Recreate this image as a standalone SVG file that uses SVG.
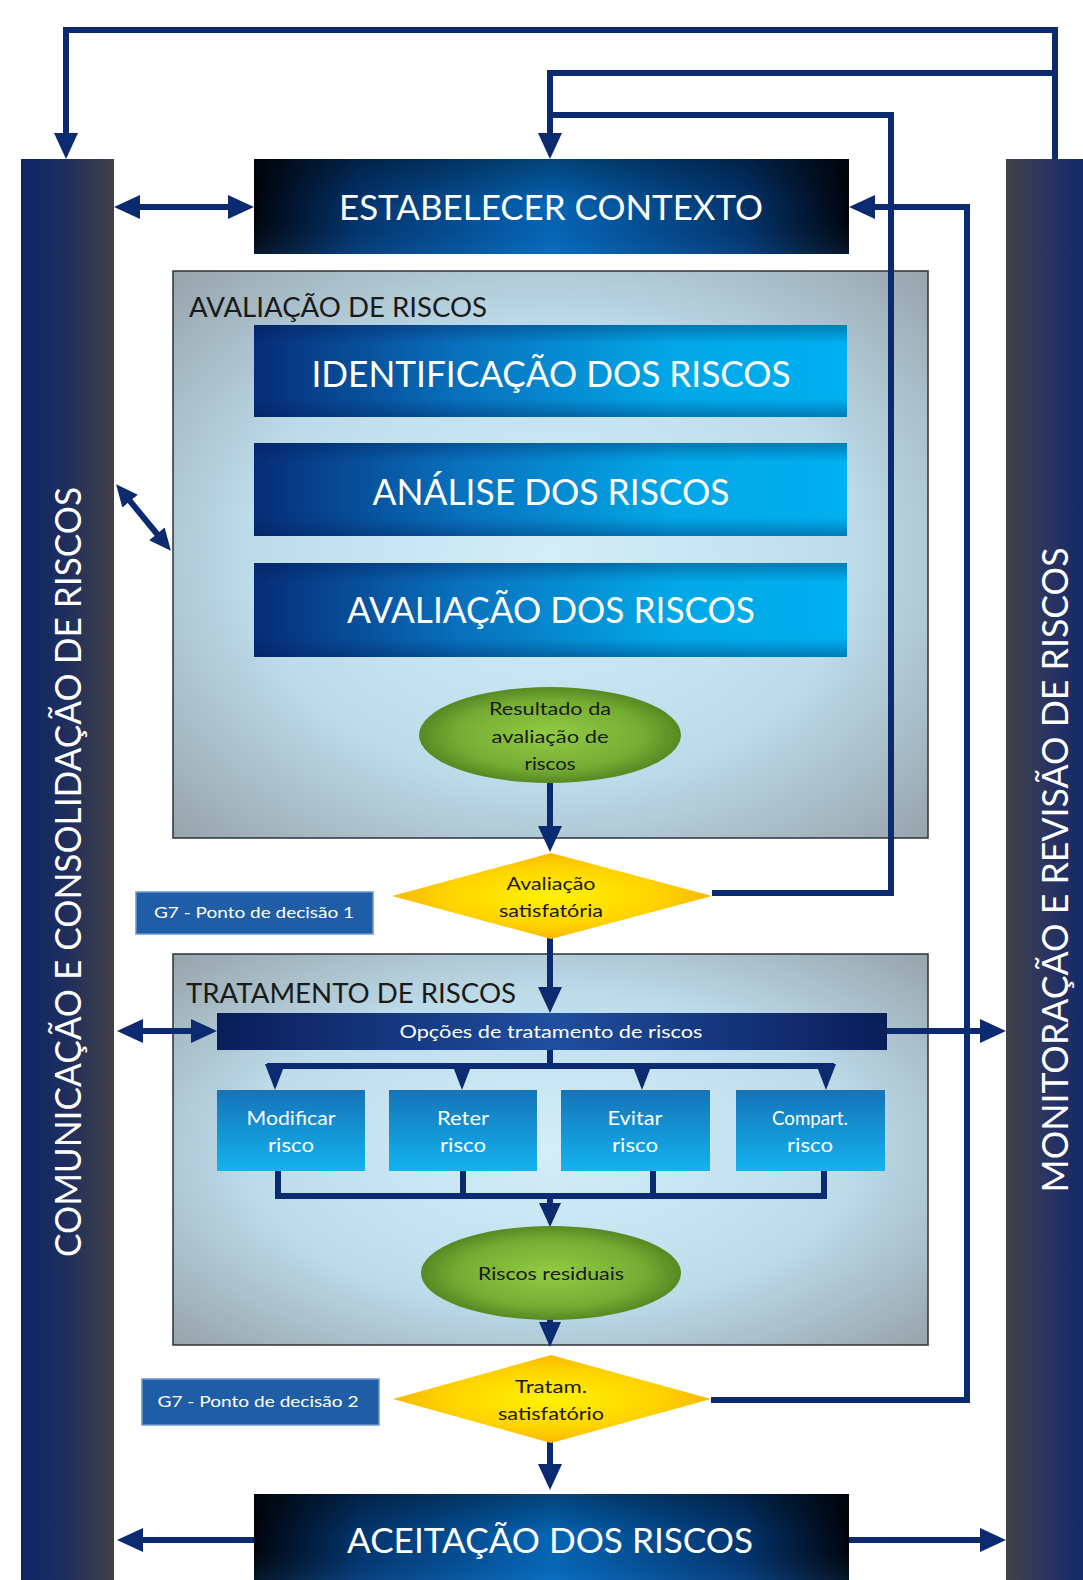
<svg xmlns="http://www.w3.org/2000/svg" width="1083" height="1580" viewBox="0 0 1083 1580">
<style>
.t{font-family:Lato,"Open Sans","Liberation Sans",sans-serif;}
.w{fill:#ffffff;}
.d{fill:#1a1a1a;}
.c{stroke:#0b2a6f;stroke-width:6;fill:none;}
.ah{fill:#0b2a6f;}
</style>
<defs>
<linearGradient id="gLeftBar" x1="0" y1="0" x2="1" y2="0">
<stop offset="0" stop-color="#0d2668"/><stop offset="0.45" stop-color="#1d2d5e"/><stop offset="1" stop-color="#404046"/>
</linearGradient>
<linearGradient id="gRightBar" x1="0" y1="0" x2="1" y2="0">
<stop offset="0" stop-color="#414148"/><stop offset="0.55" stop-color="#2a3460"/><stop offset="1" stop-color="#13296a"/>
</linearGradient>
<linearGradient id="gDark" x1="0" y1="0" x2="1" y2="0">
<stop offset="0" stop-color="#00040c"/><stop offset="0.18" stop-color="#03356f"/><stop offset="0.5" stop-color="#0467b8"/><stop offset="0.82" stop-color="#03356f"/><stop offset="1" stop-color="#00040c"/>
</linearGradient>
<linearGradient id="gDarkV" x1="0" y1="0" x2="0" y2="1">
<stop offset="0" stop-color="#000000" stop-opacity="0.35"/><stop offset="0.5" stop-color="#000000" stop-opacity="0"/><stop offset="1" stop-color="#3aa0ff" stop-opacity="0.12"/>
</linearGradient>
<radialGradient id="gPanel" cx="0.5" cy="0.5" r="0.72">
<stop offset="0" stop-color="#d3eef9"/><stop offset="0.55" stop-color="#bddcea"/><stop offset="1" stop-color="#95a1a9"/>
</radialGradient>
<linearGradient id="gBlue" x1="0" y1="0" x2="1" y2="0">
<stop offset="0" stop-color="#062c77"/><stop offset="0.35" stop-color="#0871bd"/><stop offset="0.7" stop-color="#02a7e6"/><stop offset="1" stop-color="#00b0ef"/>
</linearGradient>
<linearGradient id="gEdgeV" x1="0" y1="0" x2="0" y2="1">
<stop offset="0" stop-color="#001a50" stop-opacity="0.35"/><stop offset="0.2" stop-color="#001a50" stop-opacity="0"/><stop offset="0.8" stop-color="#001a50" stop-opacity="0"/><stop offset="1" stop-color="#001a50" stop-opacity="0.35"/>
</linearGradient>
<linearGradient id="gOpc" x1="0" y1="0" x2="1" y2="0">
<stop offset="0" stop-color="#0a1d5a"/><stop offset="0.5" stop-color="#1f4f9f"/><stop offset="1" stop-color="#0a1d5a"/>
</linearGradient>
<linearGradient id="gOpt" x1="0" y1="0" x2="0" y2="1">
<stop offset="0" stop-color="#1673b8"/><stop offset="1" stop-color="#13b3ee"/>
</linearGradient>
<radialGradient id="gGreen" cx="0.5" cy="0.5" r="0.55">
<stop offset="0" stop-color="#93cc44"/><stop offset="0.65" stop-color="#74ad33"/><stop offset="1" stop-color="#4b7d1d"/>
</radialGradient>
<radialGradient id="gYellow" cx="0.5" cy="0.5" r="0.55">
<stop offset="0" stop-color="#fff200"/><stop offset="0.6" stop-color="#ffd400"/><stop offset="1" stop-color="#f6b100"/>
</radialGradient>
<marker id="arr" viewBox="-10 -12 26 24" refX="0" refY="0" markerWidth="26" markerHeight="24" markerUnits="userSpaceOnUse" orient="auto-start-reverse">
<path d="M-10,-12 L16,0 L-10,12 z" fill="#0b2a6f"/>
</marker>
<marker id="arrS" viewBox="-8 -10 22 20" refX="0" refY="0" markerWidth="22" markerHeight="20" markerUnits="userSpaceOnUse" orient="auto-start-reverse">
<path d="M-8,-10 L14,0 L-8,10 z" fill="#0b2a6f"/>
</marker>
</defs>

<rect x="0" y="0" width="1083" height="1580" fill="#ffffff"/>

<g id="bar-comunicacao">
<rect x="21" y="159" width="93" height="1421" fill="url(#gLeftBar)"/>
<text class="t w" transform="translate(81,872) rotate(-90)" text-anchor="middle" font-size="37" textLength="770" lengthAdjust="spacingAndGlyphs">COMUNICAÇÃO E CONSOLIDAÇÃO DE RISCOS</text>
</g>
<g id="bar-monitoracao">
<rect x="1006" y="159" width="77" height="1421" fill="url(#gRightBar)"/>
<text class="t w" transform="translate(1068,870) rotate(-90)" text-anchor="middle" font-size="37" textLength="645" lengthAdjust="spacingAndGlyphs">MONITORAÇÃO E REVISÃO DE RISCOS</text>
</g>

<g id="panel-avaliacao">
<rect x="173" y="271" width="755" height="567" fill="url(#gPanel)" stroke="#2e3236" stroke-width="1.5"/>
<text class="t d" x="189" y="317" font-size="26" textLength="298" lengthAdjust="spacingAndGlyphs">AVALIAÇÃO DE RISCOS</text>
</g>
<g id="panel-tratamento">
<rect x="173" y="954" width="755" height="391" fill="url(#gPanel)" stroke="#2e3236" stroke-width="1.5"/>
<text class="t d" x="186" y="1003" font-size="26" textLength="330" lengthAdjust="spacingAndGlyphs">TRATAMENTO DE RISCOS</text>
</g>

<g id="connectors">
<path class="c" d="M1055,159 V30 H66 V143" marker-end="url(#arr)"/>
<path class="c" d="M1055,73 H550 V143" marker-end="url(#arr)"/>
<path class="c" d="M712,893 H891 V115 H550"/>
<path class="c" d="M711,1400 H967 V207 H865" marker-end="url(#arr)"/>
<path class="c" d="M130,207 H238" marker-start="url(#arr)" marker-end="url(#arr)"/>
<path class="c" d="M125,495 L162,540" marker-start="url(#arrS)" marker-end="url(#arrS)"/>
<path class="c" d="M550,783 V836" marker-end="url(#arr)"/>
<path class="c" d="M550,938 V997" marker-end="url(#arr)"/>
<path class="c" d="M133,1031 H201" marker-start="url(#arr)" marker-end="url(#arr)"/>
<path class="c" d="M887,1031 H990" marker-end="url(#arr)"/>
<path class="c" d="M550,1050 V1066 M267,1066 H834"/>
<polygon class="ah" points="265,1064 285,1064 275,1090"/>
<polygon class="ah" points="452,1064 472,1064 462,1090"/>
<polygon class="ah" points="632,1064 652,1064 642,1090"/>
<polygon class="ah" points="816,1064 836,1064 826,1090"/>
<path class="c" d="M278,1171 V1196 M463,1171 V1196 M653,1171 V1196 M824,1171 V1196 M275,1196 H827 M550,1196 V1208"/>
<polygon class="ah" points="539,1203 561,1203 550,1227"/>
<path class="c" d="M550,1318 V1328"/>
<polygon class="ah" points="539,1322 561,1322 550,1347"/>
<path class="c" d="M550,1442 V1474" marker-end="url(#arr)"/>
<path class="c" d="M254,1540 H133" marker-end="url(#arr)"/>
<path class="c" d="M849,1540 H990" marker-end="url(#arr)"/>
</g>

<g id="estabelecer-contexto">
<rect x="254" y="159" width="595" height="95" fill="url(#gDark)"/>
<rect x="254" y="159" width="595" height="95" fill="url(#gDarkV)"/>
<text class="t w" x="551" y="220" text-anchor="middle" font-size="35" textLength="424" lengthAdjust="spacingAndGlyphs">ESTABELECER CONTEXTO</text>
</g>

<g id="identificacao">
<rect x="254" y="325" width="593" height="92" fill="url(#gBlue)"/>
<rect x="254" y="325" width="593" height="92" fill="url(#gEdgeV)"/>
<text class="t w" x="551" y="387" text-anchor="middle" font-size="36" textLength="479" lengthAdjust="spacingAndGlyphs">IDENTIFICAÇÃO DOS RISCOS</text>
</g>
<g id="analise">
<rect x="254" y="443" width="593" height="93" fill="url(#gBlue)"/>
<rect x="254" y="443" width="593" height="93" fill="url(#gEdgeV)"/>
<text class="t w" x="551" y="505" text-anchor="middle" font-size="36" textLength="357" lengthAdjust="spacingAndGlyphs">ANÁLISE DOS RISCOS</text>
</g>
<g id="avaliacao-riscos">
<rect x="254" y="563" width="593" height="94" fill="url(#gBlue)"/>
<rect x="254" y="563" width="593" height="94" fill="url(#gEdgeV)"/>
<text class="t w" x="551" y="623" text-anchor="middle" font-size="36" textLength="408" lengthAdjust="spacingAndGlyphs">AVALIAÇÃO DOS RISCOS</text>
</g>

<g id="resultado">
<ellipse cx="550" cy="735" rx="131" ry="48" fill="url(#gGreen)"/>
<text class="t d" x="550" y="715" text-anchor="middle" font-size="18" textLength="122" lengthAdjust="spacingAndGlyphs">Resultado da</text>
<text class="t d" x="550" y="743" text-anchor="middle" font-size="18" textLength="117" lengthAdjust="spacingAndGlyphs">avaliação de</text>
<text class="t d" x="550" y="770" text-anchor="middle" font-size="18" textLength="51" lengthAdjust="spacingAndGlyphs">riscos</text>
</g>

<g id="decisao-1">
<polygon points="551,853 712,896 551,939 392,896" fill="url(#gYellow)"/>
<text class="t d" x="551" y="890" text-anchor="middle" font-size="18" textLength="89" lengthAdjust="spacingAndGlyphs">Avaliação</text>
<text class="t d" x="551" y="917" text-anchor="middle" font-size="18" textLength="104" lengthAdjust="spacingAndGlyphs">satisfatória</text>
</g>
<g id="g7-ponto-1">
<rect x="136" y="892" width="237" height="42" fill="#1f5ea6" stroke="#6c97cf" stroke-width="1.5"/>
<text class="t w" x="254" y="918" text-anchor="middle" font-size="16" textLength="200" lengthAdjust="spacingAndGlyphs">G7 - Ponto de decisão 1</text>
</g>

<g id="opcoes">
<rect x="217" y="1013" width="670" height="37" fill="url(#gOpc)"/>
<text class="t w" x="551" y="1038" text-anchor="middle" font-size="18" textLength="303" lengthAdjust="spacingAndGlyphs">Opções de tratamento de riscos</text>
</g>

<g id="modificar">
<rect x="217" y="1090" width="148" height="81" fill="url(#gOpt)"/>
<text class="t w" x="291" y="1125" text-anchor="middle" font-size="19" textLength="89" lengthAdjust="spacingAndGlyphs">Modificar</text>
<text class="t w" x="291" y="1152" text-anchor="middle" font-size="19" textLength="46" lengthAdjust="spacingAndGlyphs">risco</text>
</g>
<g id="reter">
<rect x="389" y="1090" width="148" height="81" fill="url(#gOpt)"/>
<text class="t w" x="463" y="1125" text-anchor="middle" font-size="19" textLength="52" lengthAdjust="spacingAndGlyphs">Reter</text>
<text class="t w" x="463" y="1152" text-anchor="middle" font-size="19" textLength="46" lengthAdjust="spacingAndGlyphs">risco</text>
</g>
<g id="evitar">
<rect x="561" y="1090" width="149" height="81" fill="url(#gOpt)"/>
<text class="t w" x="635" y="1125" text-anchor="middle" font-size="19" textLength="55" lengthAdjust="spacingAndGlyphs">Evitar</text>
<text class="t w" x="635" y="1152" text-anchor="middle" font-size="19" textLength="46" lengthAdjust="spacingAndGlyphs">risco</text>
</g>
<g id="compart">
<rect x="736" y="1090" width="149" height="81" fill="url(#gOpt)"/>
<text class="t w" x="810" y="1125" text-anchor="middle" font-size="19" textLength="76" lengthAdjust="spacingAndGlyphs">Compart.</text>
<text class="t w" x="810" y="1152" text-anchor="middle" font-size="19" textLength="46" lengthAdjust="spacingAndGlyphs">risco</text>
</g>

<g id="residuais">
<ellipse cx="551" cy="1273" rx="130" ry="47" fill="url(#gGreen)"/>
<text class="t d" x="551" y="1280" text-anchor="middle" font-size="18" textLength="146" lengthAdjust="spacingAndGlyphs">Riscos residuais</text>
</g>

<g id="decisao-2">
<polygon points="551,1355 711,1399 551,1443 393,1399" fill="url(#gYellow)"/>
<text class="t d" x="551" y="1393" text-anchor="middle" font-size="18" textLength="72" lengthAdjust="spacingAndGlyphs">Tratam.</text>
<text class="t d" x="551" y="1420" text-anchor="middle" font-size="18" textLength="106" lengthAdjust="spacingAndGlyphs">satisfatório</text>
</g>
<g id="g7-ponto-2">
<rect x="142" y="1379" width="237" height="46" fill="#1f5ea6" stroke="#6c97cf" stroke-width="1.5"/>
<text class="t w" x="258" y="1407" text-anchor="middle" font-size="16" textLength="201" lengthAdjust="spacingAndGlyphs">G7 - Ponto de decisão 2</text>
</g>

<g id="aceitacao">
<rect x="254" y="1494" width="595" height="86" fill="url(#gDark)"/>
<rect x="254" y="1494" width="595" height="86" fill="url(#gDarkV)"/>
<text class="t w" x="550" y="1553" text-anchor="middle" font-size="35" textLength="406" lengthAdjust="spacingAndGlyphs">ACEITAÇÃO DOS RISCOS</text>
</g>
</svg>
